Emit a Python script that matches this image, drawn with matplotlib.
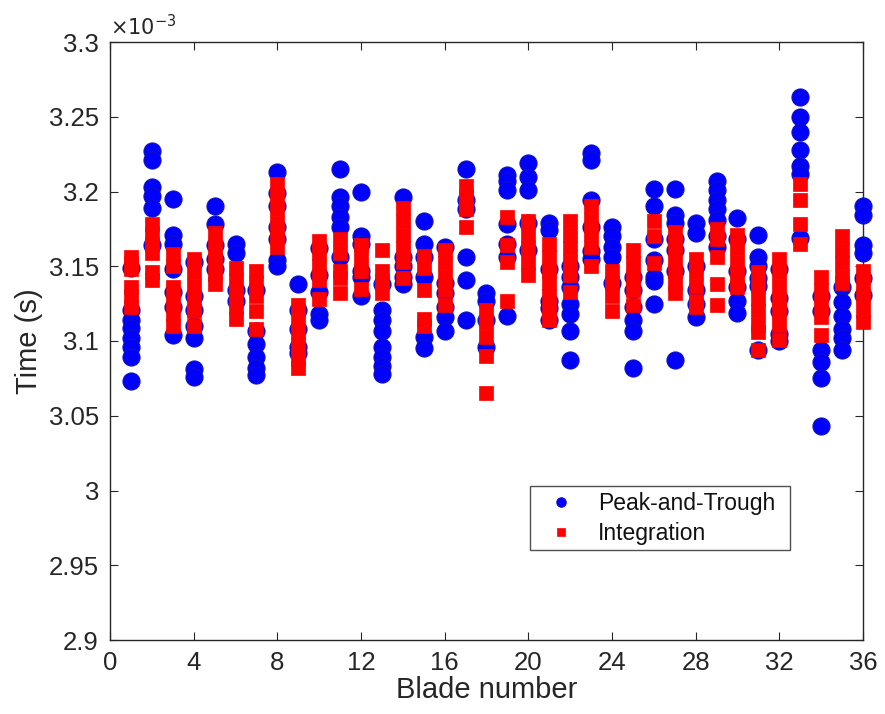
import matplotlib
matplotlib.use("Agg")
import matplotlib.pyplot as plt
from matplotlib.ticker import FixedLocator, FormatStrFormatter

plt.rcParams['font.family'] = ['Liberation Sans', 'DejaVu Sans']

blades = list(range(1, 37))

# Peak-and-Trough arrival times per blade (x 1e-3 s)
peak_trough = [
    [3.149, 3.121, 3.114, 3.109, 3.102, 3.096, 3.089, 3.073],
    [3.227, 3.221, 3.203, 3.197, 3.189, 3.164],
    [3.195, 3.171, 3.165, 3.148, 3.133, 3.123, 3.104],
    [3.153, 3.130, 3.121, 3.110, 3.102, 3.081, 3.076],
    [3.190, 3.178, 3.164, 3.155, 3.148],
    [3.165, 3.159, 3.134, 3.127],
    [3.134, 3.107, 3.098, 3.089, 3.082, 3.077],
    [3.213, 3.199, 3.190, 3.176, 3.168, 3.154, 3.150],
    [3.138, 3.121, 3.108, 3.096, 3.092],
    [3.162, 3.144, 3.133, 3.118, 3.114],
    [3.215, 3.196, 3.190, 3.183, 3.176, 3.156],
    [3.200, 3.170, 3.165, 3.147, 3.143, 3.130],
    [3.138, 3.121, 3.114, 3.107, 3.096, 3.089, 3.083, 3.078],
    [3.196, 3.156, 3.150, 3.143, 3.138],
    [3.180, 3.165, 3.156, 3.143, 3.103, 3.095],
    [3.163, 3.139, 3.132, 3.123, 3.116, 3.107],
    [3.215, 3.194, 3.188, 3.156, 3.141, 3.114],
    [3.132, 3.127, 3.114, 3.096],
    [3.211, 3.207, 3.201, 3.178, 3.165, 3.156, 3.117],
    [3.219, 3.210, 3.201, 3.179, 3.161],
    [3.179, 3.174, 3.148, 3.127, 3.122, 3.114],
    [3.150, 3.143, 3.136, 3.125, 3.118, 3.107, 3.087],
    [3.226, 3.221, 3.194, 3.176, 3.160, 3.155],
    [3.176, 3.170, 3.163, 3.156, 3.139],
    [3.143, 3.134, 3.123, 3.114, 3.107, 3.082],
    [3.202, 3.190, 3.168, 3.154, 3.143, 3.140, 3.125],
    [3.202, 3.184, 3.179, 3.168, 3.161, 3.147, 3.087],
    [3.179, 3.172, 3.150, 3.134, 3.125, 3.116],
    [3.207, 3.201, 3.194, 3.188, 3.181, 3.170, 3.163],
    [3.182, 3.168, 3.147, 3.136, 3.127, 3.119],
    [3.171, 3.156, 3.150, 3.142, 3.137, 3.094],
    [3.148, 3.129, 3.120, 3.105, 3.100],
    [3.263, 3.250, 3.240, 3.228, 3.217, 3.212, 3.169],
    [3.130, 3.120, 3.094, 3.086, 3.075, 3.043],
    [3.136, 3.126, 3.117, 3.108, 3.102, 3.094],
    [3.190, 3.184, 3.164, 3.159, 3.142, 3.131],
]

# Integration arrival times per blade (x 1e-3 s)
integration = [
    [3.156, 3.152, 3.148, 3.136, 3.130, 3.123],
    [3.178, 3.172, 3.165, 3.159, 3.146, 3.141],
    [3.158, 3.150, 3.136, 3.127, 3.118, 3.110],
    [3.155, 3.146, 3.137, 3.129, 3.120, 3.110],
    [3.172, 3.163, 3.154, 3.145, 3.138],
    [3.149, 3.141, 3.132, 3.123, 3.115],
    [3.147, 3.139, 3.130, 3.120, 3.108],
    [3.205, 3.197, 3.188, 3.179, 3.170, 3.163],
    [3.124, 3.115, 3.106, 3.097, 3.088, 3.082],
    [3.167, 3.159, 3.150, 3.141, 3.128],
    [3.168, 3.159, 3.147, 3.142, 3.132],
    [3.164, 3.156, 3.147, 3.135],
    [3.161, 3.147, 3.140, 3.132],
    [3.189, 3.180, 3.171, 3.162, 3.153, 3.142],
    [3.157, 3.149, 3.134, 3.115, 3.110],
    [3.161, 3.152, 3.143, 3.134, 3.124],
    [3.204, 3.197, 3.188, 3.176],
    [3.121, 3.112, 3.103, 3.090, 3.065],
    [3.183, 3.164, 3.153, 3.127],
    [3.180, 3.171, 3.162, 3.153, 3.144],
    [3.165, 3.156, 3.147, 3.139, 3.130, 3.121, 3.114],
    [3.180, 3.171, 3.162, 3.153, 3.144, 3.133],
    [3.190, 3.181, 3.172, 3.163, 3.150],
    [3.147, 3.139, 3.130, 3.120],
    [3.161, 3.152, 3.143, 3.134, 3.124],
    [3.180, 3.170, 3.152],
    [3.173, 3.165, 3.156, 3.147, 3.139, 3.132],
    [3.155, 3.146, 3.137, 3.127, 3.123],
    [3.175, 3.168, 3.156, 3.138, 3.124],
    [3.171, 3.162, 3.153, 3.144, 3.136],
    [3.146, 3.137, 3.128, 3.120, 3.111, 3.106, 3.094],
    [3.155, 3.146, 3.137, 3.128, 3.120, 3.111, 3.101],
    [3.205, 3.194, 3.178, 3.165],
    [3.143, 3.134, 3.125, 3.116, 3.104],
    [3.170, 3.161, 3.152, 3.143, 3.139],
    [3.147, 3.139, 3.130, 3.121, 3.113],
]

y_ticks = [2.9, 2.95, 3.0, 3.05, 3.1, 3.15, 3.2, 3.25, 3.3]
x_ticks = [0, 4, 8, 12, 16, 20, 24, 28, 32, 36]

fig = plt.figure(figsize=(8.85, 7.14), dpi=100)
ax = fig.add_axes([110 / 885, 74 / 714, 753 / 885, 598 / 714])

px, py = [], []
for b, vals in zip(blades, peak_trough):
    px += [b] * len(vals)
    py += vals
ix, iy = [], []
for b, vals in zip(blades, integration):
    ix += [b] * len(vals)
    iy += vals

ax.plot(px, py, linestyle='none', marker='o', markersize=12.3,
        markerfacecolor='#0000ff', markeredgecolor='#1010c0', markeredgewidth=0.8,
        label='Peak-and-Trough', clip_on=False, zorder=3)
ax.plot(ix, iy, linestyle='none', marker='s', markersize=10.0,
        markerfacecolor='#ff0000', markeredgecolor='#ff0000', markeredgewidth=0.5,
        label='Integration', clip_on=False, zorder=4)

ax.set_xlim(0, 36)
ax.set_ylim(2.9, 3.3)
ax.xaxis.set_major_locator(FixedLocator(x_ticks))
ax.yaxis.set_major_locator(FixedLocator(y_ticks))
ax.yaxis.set_major_formatter(FormatStrFormatter('%g'))

dark = '#262626'
for s in ax.spines.values():
    s.set_color(dark)
    s.set_linewidth(1.0)
ax.tick_params(direction='in', length=6, width=0.8, colors=dark,
               labelsize=18.5, top=True, right=True, pad=8)
for lab in ax.get_xticklabels() + ax.get_yticklabels():
    lab.set_color(dark)

ax.set_xlabel('Blade number', fontsize=21, color=dark, labelpad=1)
ax.set_ylabel('Time (s)', fontsize=21, color=dark, labelpad=4)
ax.text(0.0, 1.004, r'$\times10^{-3}$', transform=ax.transAxes, fontsize=15,
        color=dark, ha='left', va='bottom')

leg = ax.legend(loc='lower left', bbox_to_anchor=(0.558, 0.150, 0.345, 0.106),
                mode='expand', borderaxespad=0.0, fontsize=16.5, markerscale=0.55,
                frameon=True, fancybox=False, edgecolor='#262626', borderpad=0.25,
                handletextpad=0.5, labelspacing=0.3, handlelength=2.2)
leg.get_frame().set_linewidth(1.0)
for t in leg.get_texts():
    t.set_color('#111111')

fig.savefig('out.png', dpi=100)
